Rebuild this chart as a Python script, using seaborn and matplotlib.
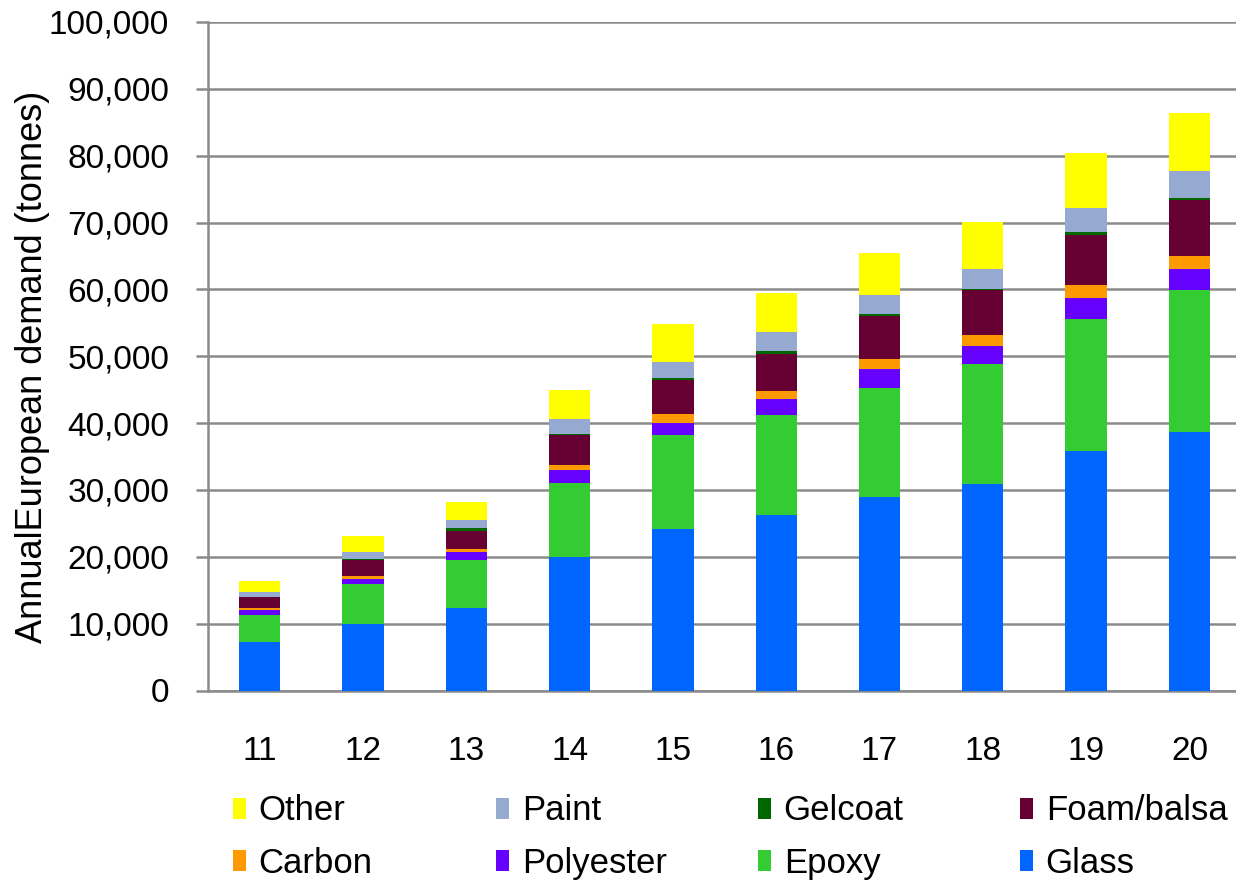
import matplotlib
matplotlib.use("Agg")
import matplotlib.pyplot as plt
from matplotlib.patches import Patch
from matplotlib.ticker import FuncFormatter, MultipleLocator, FixedLocator
import seaborn as sns
import pandas as pd

# Annual European demand by material (tonnes)
years = [11, 12, 13, 14, 15, 16, 17, 18, 19, 20]
glass = [7300, 10000, 12400, 19900, 24200, 26250, 29000, 30950, 35800, 38600]
epoxy = [4000, 6000, 7100, 11150, 13950, 15000, 16300, 17900, 19750, 21300]
polyester = [700, 750, 1200, 1950, 1900, 2350, 2750, 2750, 3150, 3150]
carbon = [400, 450, 400, 800, 1250, 1250, 1550, 1600, 1950, 2000]
foam_balsa = [1600, 2350, 2800, 4350, 5100, 5550, 6350, 6700, 7500, 8250]
gelcoat = [50, 80, 350, 200, 400, 400, 400, 150, 400, 400]
paint = [750, 1150, 1200, 2200, 2400, 2800, 2750, 3000, 3600, 4050]
other = [1600, 2350, 2800, 4350, 5600, 5900, 6350, 7050, 8250, 8700]

# top of the stack first: histplot stacks the last hue level at the bottom
materials = ["Other", "Paint", "Gelcoat", "Foam/balsa", "Carbon", "Polyester", "Epoxy", "Glass"]
series = [other, paint, gelcoat, foam_balsa, carbon, polyester, epoxy, glass]
colors = ["#FFFF00", "#95A9D1", "#006600", "#660033", "#FF9900", "#6600FF", "#33CC33", "#0066FF"]
palette = dict(zip(materials, colors))

rows = []
for name, vals in zip(materials, series):
    for yr, v in zip(years, vals):
        rows.append({"year": yr, "material": name, "tonnes": v})
df = pd.DataFrame(rows)

sns.set_style("white")
plt.rcParams["font.family"] = ["Liberation Sans", "DejaVu Sans"]
plt.rcParams["text.color"] = "black"
plt.rcParams["xtick.labelcolor"] = "black"
plt.rcParams["ytick.labelcolor"] = "black"

fig = plt.figure(figsize=(12.36, 8.81), dpi=100)
ax = fig.add_axes([208 / 1236, 1 - 690.5 / 881, (1239 - 208) / 1236, (690.5 - 22) / 881])

sns.histplot(data=df, x="year", hue="material", weights="tonnes",
             hue_order=materials, palette=palette, multiple="stack",
             discrete=True, shrink=0.4, alpha=1, linewidth=0,
             legend=False, ax=ax, zorder=3)

grid_c = "#8A8A8A"
ax.set_ylim(0, 100000)
ax.set_xlim(10.5, 20.48)
ax.yaxis.set_major_locator(MultipleLocator(10000))
ax.yaxis.set_major_formatter(FuncFormatter(lambda v, p: f"{int(v):,}"))
ax.grid(axis="y", color=grid_c, linewidth=1.8, zorder=0)
ax.set_axisbelow(True)

ax.set_xticks(years)
ax.set_xticklabels([str(y) for y in years])
ax.xaxis.set_minor_locator(FixedLocator([y + 0.5 for y in [10] + years]))
ax.tick_params(axis="x", which="major", length=0, pad=33, labelsize=24, labelcolor="black")
ax.tick_params(axis="x", which="minor", length=9, width=1.8, color=grid_c, direction="out")
ax.tick_params(axis="y", which="major", length=9, width=1.8, color=grid_c,
               direction="out", pad=19, labelsize=24, left=True, labelcolor="black")

for side in ["top", "right"]:
    ax.spines[side].set_visible(False)
for side in ["left", "bottom"]:
    ax.spines[side].set_color(grid_c)
    ax.spines[side].set_linewidth(1.8)

ax.set_xlabel("")
ax.set_ylabel("")
fig.text(33 / 1236, 1 - 367 / 881, "AnnualEuropean demand (tonnes)", rotation=90,
         ha="center", va="center", fontsize=26, color="black")

# legend: four columns of two entries each
legend_cols = [["Other", "Carbon"], ["Paint", "Polyester"], ["Gelcoat", "Epoxy"], ["Foam/balsa", "Glass"]]
col_x = [216, 479, 741, 1003]
for names, x in zip(legend_cols, col_x):
    handles = [Patch(facecolor=palette[n], edgecolor="none") for n in names]
    fig.legend(handles, names, loc="upper left", bbox_to_anchor=(x / 1236, 1 - 777 / 881),
               frameon=False, borderpad=0, fontsize=25, handlelength=0.35,
               handleheight=0.55, handletextpad=0.38, labelspacing=0.56,
               labelcolor="black")

fig.savefig("out.png", dpi=100)
